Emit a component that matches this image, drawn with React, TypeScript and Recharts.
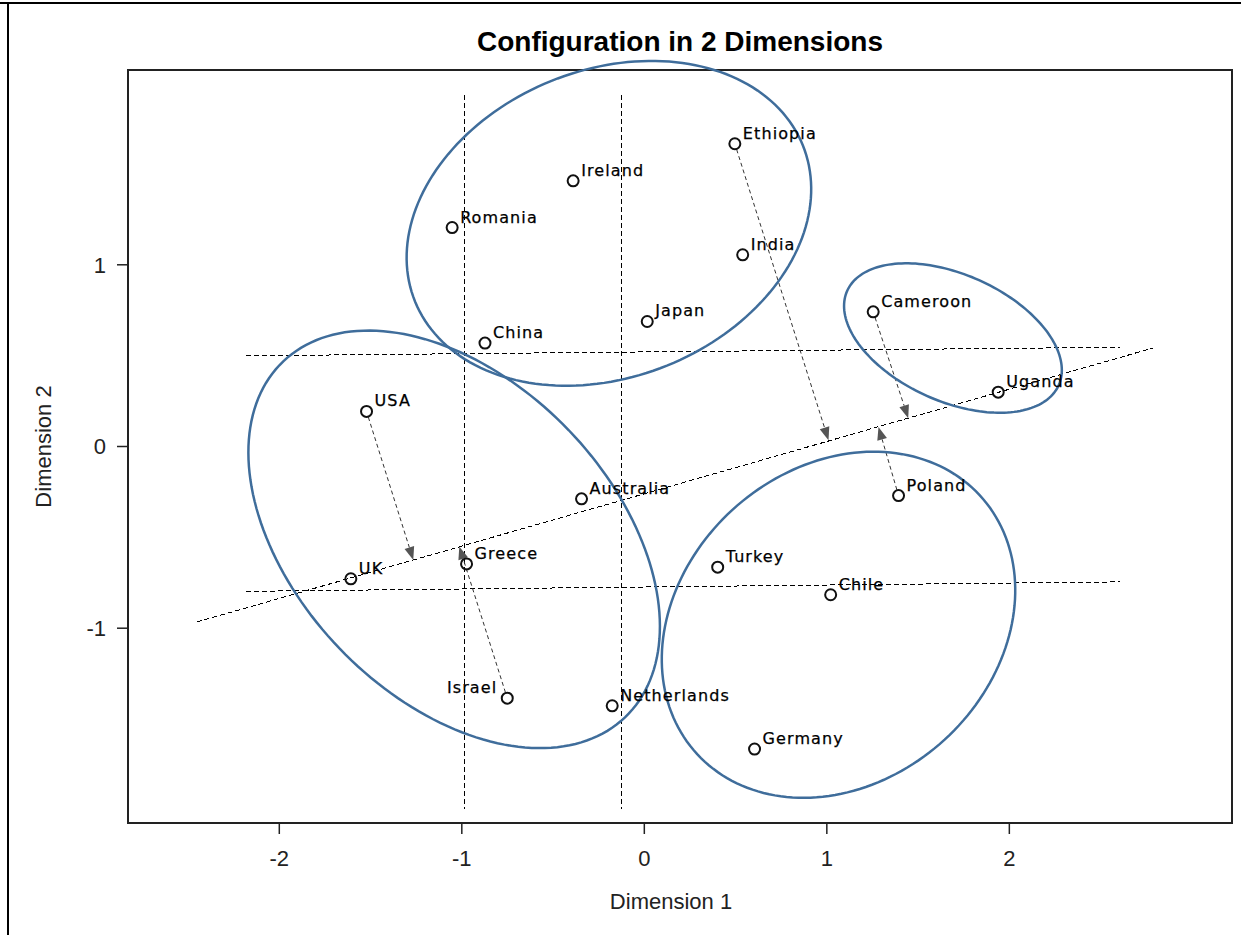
import React from 'react';
import { ScatterChart, Scatter, XAxis, YAxis, ReferenceLine, ReferenceArea } from 'recharts';

// MDS configuration, two dimensions
const countries = [
  'Ethiopia', 'Ireland', 'Romania', 'India', 'Cameroon', 'Japan', 'China', 'Uganda', 'USA',
  'Australia', 'Poland', 'Greece', 'Turkey', 'UK', 'Chile', 'Israel', 'Netherlands', 'Germany',
];
const dim1 = [0.496, -0.39, -1.053, 0.539, 1.254, 0.016, -0.873, 1.939, -1.522, -0.344, 1.393, -0.974, 0.402, -1.608, 1.021, -0.751, -0.176, 0.604];
const dim2 = [1.666, 1.462, 1.205, 1.055, 0.741, 0.688, 0.569, 0.299, 0.193, -0.288, -0.27, -0.646, -0.664, -0.728, -0.816, -1.385, -1.427, -1.665];

const xTicks = [-2, -1, 0, 1, 2];
const yTicks = [-1, 0, 1];
const X_DOMAIN: [number, number] = [-2.829, 3.22];
const Y_DOMAIN: [number, number] = [-2.072, 2.072];

// cluster ellipses: centre, semi-axes and tilt (degrees)
const ellipseCx = [-0.194, 1.691, -1.042, 1.064];
const ellipseCy = [1.228, 0.597, -0.511, -0.981];
const ellipseA = [1.146, 0.635, 1.355, 1.052];
const ellipseB = [0.845, 0.349, 0.869, 0.859];
const ellipseTilt = [22.1, -24.2, -46.3, 42.6];

// dashed guide lines
const guideX1 = [-0.987, -0.124, -2.183, -2.183, -2.452];
const guideY1 = [1.935, 1.935, 0.499, -0.797, -0.966];
const guideX2 = [-0.987, -0.124, 2.606, 2.606, 2.787];
const guideY2 = [-1.995, -1.995, 0.546, -0.745, 0.542];

// projections onto the diagonal
const arrowFrom = ['Ethiopia', 'Cameroon', 'Poland', 'USA', 'Israel'];
const arrowToX = [1.009, 1.446, 1.283, -1.266, -1.014];
const arrowToY = [0.035, 0.156, 0.108, -0.624, -0.55];

const leftLabels = ['Israel'];

const AXIS_FONT = '"Liberation Sans", Arial, sans-serif';
const POINT_FONT = '"DejaVu Sans", Verdana, sans-serif';
const ELLIPSE_COLOR = '#3f6d9b';

const points = countries.map((name, i) => ({ name, x: dim1[i], y: dim2[i] }));

const PointShape = (props: any) => {
  const { cx, cy, payload } = props;
  const left = leftLabels.includes(payload.name);
  return (
    <g>
      <circle cx={cx} cy={cy} r={5.5} fill="none" stroke="#111" strokeWidth={2} />
      <text
        x={left ? cx - 10 : cx + 8}
        y={cy - 5}
        textAnchor={left ? 'end' : 'start'}
        fontFamily={POINT_FONT}
        fontSize={16}
        letterSpacing={1.1}
        fill="#000"
        stroke="#000"
        strokeWidth={0.25}
      >
        {payload.name}
      </text>
    </g>
  );
};

// the segment runs from the centre to centre + (1, 1), which gives px per unit
const makeEllipse = (i: number) => (props: any) => {
  const { x1, y1, x2, y2 } = props;
  const sx = x2 - x1;
  const sy = y2 - y1;
  const th = (ellipseTilt[i] * Math.PI) / 180;
  const a = ellipseA[i];
  const b = ellipseB[i];
  let d = '';
  for (let k = 0; k <= 180; k++) {
    const t = (k / 180) * Math.PI * 2;
    const ux = a * Math.cos(th) * Math.cos(t) - b * Math.sin(th) * Math.sin(t);
    const uy = a * Math.sin(th) * Math.cos(t) + b * Math.cos(th) * Math.sin(t);
    d += `${k === 0 ? 'M' : 'L'}${(x1 + sx * ux).toFixed(2)},${(y1 + sy * uy).toFixed(2)}`;
  }
  return <path d={d + 'Z'} fill="none" stroke={ELLIPSE_COLOR} strokeWidth={2.5} />;
};

const ArrowShape = (props: any) => {
  const { x1, y1, x2, y2 } = props;
  const dx = x2 - x1;
  const dy = y2 - y1;
  const len = Math.hypot(dx, dy);
  const ux = dx / len;
  const uy = dy / len;
  const headLen = 13;
  const headW = 5;
  const bx = x2 - ux * headLen;
  const by = y2 - uy * headLen;
  const head = `${x2},${y2} ${bx - uy * headW},${by + ux * headW} ${bx + uy * headW},${by - ux * headW}`;
  return (
    <g>
      <line x1={x1 + ux * 6} y1={y1 + uy * 6} x2={bx} y2={by} stroke="#333" strokeWidth={1} strokeDasharray="4 3" />
      <polygon points={head} fill="#555" />
    </g>
  );
};

const GuideShape = (props: any) => {
  const { x1, y1, x2, y2 } = props;
  return (
    <line
      x1={x1}
      y1={y1}
      x2={x2}
      y2={y2}
      stroke="#000"
      strokeWidth={1}
      strokeDasharray="5 3"
      shapeRendering="crispEdges"
    />
  );
};

const XTitle = (props: any) => {
  const vb = props.viewBox;
  return (
    <text x={vb.x + vb.width / 2 - 9} y={vb.y + 86} textAnchor="middle" fontFamily={AXIS_FONT} fontSize={22} fill="#222">
      Dimension 1
    </text>
  );
};

const YTitle = (props: any) => {
  const vb = props.viewBox;
  const x = 51;
  const y = vb.y + vb.height / 2;
  return (
    <text x={x} y={y} transform={`rotate(-90 ${x} ${y})`} textAnchor="middle" fontFamily={AXIS_FONT} fontSize={22} fill="#222">
      Dimension 2
    </text>
  );
};

export default function App() {
  return (
    <div style={{ position: 'absolute', left: 0, top: 0, width: 1241, height: 935, background: '#fff', overflow: 'hidden' }}>
      <div style={{ position: 'absolute', left: 0, top: 2, width: 1241, height: 2, background: '#000' }} />
      <div style={{ position: 'absolute', left: 7, top: 2, width: 2, height: 933, background: '#000' }} />
      <div
        style={{
          position: 'absolute',
          left: 128,
          top: 28,
          width: 1104,
          textAlign: 'center',
          fontFamily: AXIS_FONT,
          fontWeight: 'bold',
          fontSize: 28,
          lineHeight: '28px',
          color: '#000',
        }}
      >
        Configuration in 2 Dimensions
      </div>
      <ScatterChart width={1241} height={935} margin={{ top: 70, right: 9, bottom: 0, left: 0 }}>
        <XAxis
          type="number"
          dataKey="x"
          domain={X_DOMAIN}
          ticks={xTicks}
          allowDataOverflow
          height={112}
          axisLine={false}
          tickSize={11}
          tickMargin={16}
          tickLine={{ stroke: '#222', strokeWidth: 1.5 }}
          tick={{ fill: '#222', fontSize: 22, fontFamily: AXIS_FONT }}
          label={XTitle}
        />
        <YAxis
          type="number"
          dataKey="y"
          domain={Y_DOMAIN}
          ticks={yTicks}
          allowDataOverflow
          width={128}
          axisLine={false}
          tickSize={11}
          tickMargin={11}
          tickLine={{ stroke: '#222', strokeWidth: 1.5 }}
          tick={{ fill: '#222', fontSize: 22, fontFamily: AXIS_FONT }}
          label={YTitle}
        />
        <ReferenceArea
          x1={X_DOMAIN[0]}
          x2={X_DOMAIN[1]}
          y1={Y_DOMAIN[0]}
          y2={Y_DOMAIN[1]}
          fill="none"
          stroke="#222"
          strokeWidth={2}
          ifOverflow="visible"
        />
        {guideX1.map((gx, i) => (
          <ReferenceLine
            key={`guide-${i}`}
            segment={[{ x: gx, y: guideY1[i] }, { x: guideX2[i], y: guideY2[i] }]}
            ifOverflow="visible"
            shape={GuideShape}
          />
        ))}
        {arrowFrom.map((name, i) => {
          const p = points.find((pt) => pt.name === name)!;
          return (
            <ReferenceLine
              key={`arrow-${name}`}
              segment={[{ x: p.x, y: p.y }, { x: arrowToX[i], y: arrowToY[i] }]}
              ifOverflow="visible"
              shape={ArrowShape}
            />
          );
        })}
        {ellipseCx.map((ex, i) => (
          <ReferenceLine
            key={`ellipse-${i}`}
            segment={[{ x: ex, y: ellipseCy[i] }, { x: ex + 1, y: ellipseCy[i] + 1 }]}
            ifOverflow="visible"
            shape={makeEllipse(i)}
          />
        ))}
        <Scatter data={points} shape={PointShape} isAnimationActive={false} />
      </ScatterChart>
    </div>
  );
}
